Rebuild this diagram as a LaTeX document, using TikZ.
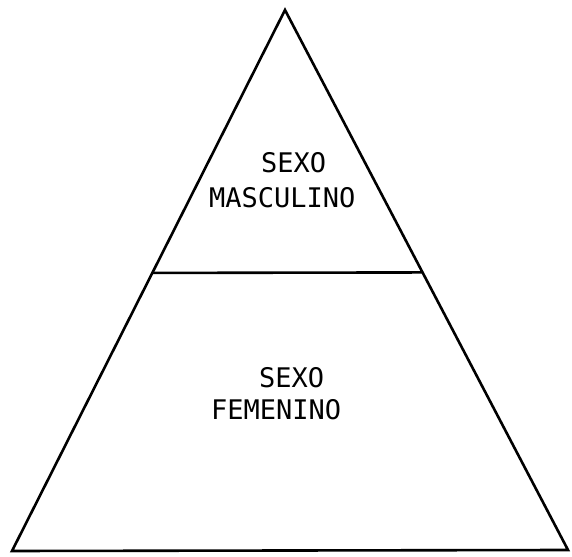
\documentclass[tikz,border=0pt]{standalone}
\usepackage{fontspec}
\newfontfamily\typew{DejaVu Sans Mono}
\usetikzlibrary{calc}
\begin{document}
\begin{tikzpicture}[x=1pt,y=1pt,
  edge/.style={line width=2.6pt,line join=miter},
  lbl/.style={inner sep=0pt,anchor=base west,font=\typew\fontsize{27}{27}\selectfont}]
\useasboundingbox (0,0) rectangle (572,556);
\coordinate (apex) at (285,546);
\coordinate (bl) at (12,5);
\coordinate (br) at (568,6);
\coordinate (ml) at ($(apex)!0.486!(bl)$);
\coordinate (mr) at ($(apex)!0.486!(br)$);
\draw[edge] (apex) -- (bl) -- (br) -- cycle;
\draw[edge] (ml) -- (mr);
\node[lbl] (s1) at (261,383) {SEXO};
\node[lbl] (m1) at (209,348) {MASCULINO};
\node[lbl] (s2) at (259,168) {SEXO};
\node[lbl] (f1) at (211,136) {FEMENINO};
\end{tikzpicture}
\end{document}
